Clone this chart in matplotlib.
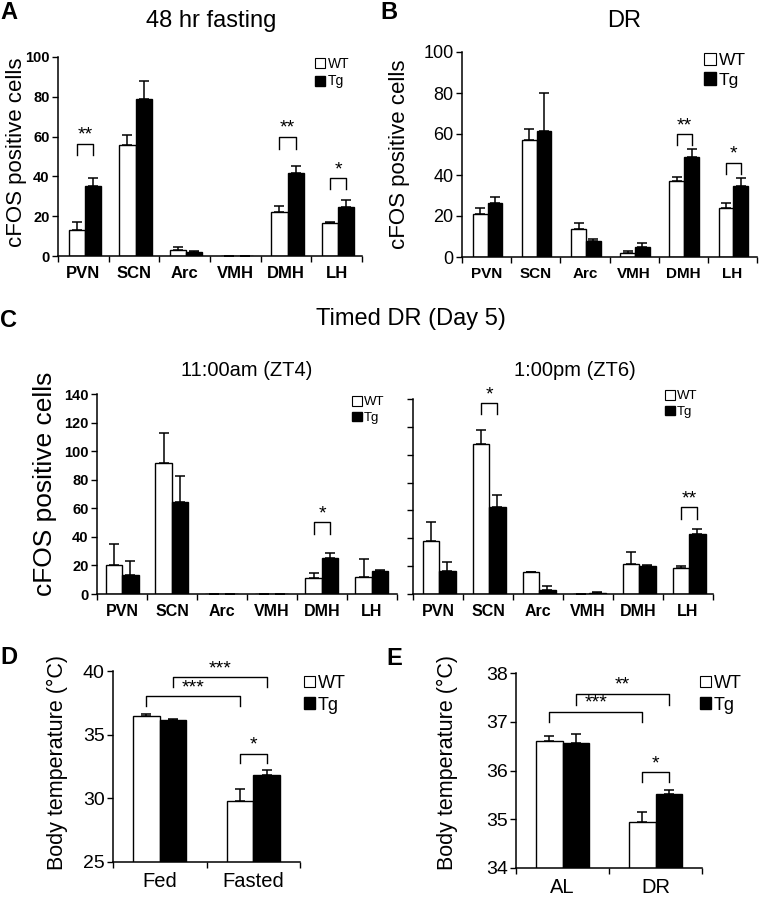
import numpy as np
import matplotlib
matplotlib.use("Agg")
import matplotlib.pyplot as plt
from matplotlib.patches import Patch

plt.rcParams['font.family'] = ['Liberation Sans', 'DejaVu Sans']

# === data
regions = ["PVN", "SCN", "Arc", "VMH", "DMH", "LH"]

# A: 48 hr fasting
a_wt = [13, 56, 3, 0, 22, 16.8]
a_wt_err = [4, 5, 1.5, 0, 3.2, 0.5]
a_tg = [35, 79, 2, 0, 41.5, 24.5]
a_tg_err = [4, 9, 0.7, 0, 3.7, 3.5]
a_sig = [(0, 56.5, 50.7, "**"), (4, 60, 54, "**"), (5, 39, 33.5, "*")]

# B: DR
b_wt = [21, 57, 13.5, 2, 37, 24]
b_wt_err = [3, 5.5, 3, 1, 2, 2.5]
b_tg = [26.5, 61.5, 8, 5, 49, 34.5]
b_tg_err = [3, 18.5, 1, 2, 3.5, 4]
b_sig = [(4, 60, 54.5, "**"), (5, 46, 40.6, "*")]

# C: timed DR, 11:00am (ZT4)
c1_wt = [20, 91.5, 0, 0, 11.4, 12]
c1_wt_err = [15, 21, 0, 0, 3.3, 12.4]
c1_tg = [13.3, 64.4, 0, 0, 25.2, 15.9]
c1_tg_err = [10, 18.4, 0, 0, 3.7, 1.1]
c1_sig = [(4, 50.2, 42, "*")]

# C: timed DR, 1:00pm (ZT6)
c2_wt = [38, 107.5, 16, 0, 21.5, 18.4]
c2_wt_err = [13.4, 10.5, 0, 0, 8.6, 1.9]
c2_tg = [16.3, 62.7, 3, 0.7, 20, 43]
c2_tg_err = [6.7, 8.6, 2.4, 0.5, 0.9, 3.6]
c2_sig = [(1, 136.8, 129.2, "*"), (5, 62.4, 54, "**")]

# D: body temperature, fasting
d_groups = ["Fed", "Fasted"]
d_wt = [36.5, 29.8]
d_wt_err = [0.12, 0.9]
d_tg = [36.15, 31.8]
d_tg_err = [0.08, 0.45]
# (from group, from bar, to group, to bar, y top, y leg, label); bar 0 = WT, 1 = Tg
d_sig = [(0, 0, 1, 0, 38.03, 37.25, "***"), (0, 1, 1, 1, 39.5, 38.77, "***"),
         (1, 0, 1, 1, 33.5, 32.8, "*")]

# E: body temperature, DR
e_groups = ["AL", "DR"]
e_wt = [36.6, 34.95]
e_wt_err = [0.11, 0.19]
e_tg = [36.56, 35.52]
e_tg_err = [0.18, 0.08]
e_sig = [(0, 0, 1, 0, 37.21, 37.0, "***"), (0, 1, 1, 1, 37.57, 37.35, "**"),
         (1, 0, 1, 1, 35.96, 35.77, "*")]

W, H = 759, 899
fig = plt.figure(figsize=(W / 100, H / 100), dpi=100, facecolor="white")


def px_axes(left, top, right, bottom):
    return fig.add_axes([left / W, 1 - bottom / H, (right - left) / W, (bottom - top) / H])


def draw_bars(ax, wt, wt_err, tg, tg_err, labels, width, shift, ylim, yticks,
              ytick_size, ytick_bold, xtick_size, xtick_bold, show_ylabels=True):
    n = len(labels)
    x = np.arange(n) + 0.5 + shift
    ekw = dict(ecolor="black", elinewidth=1.1, capsize=3.5, capthick=1.1)
    ax.bar(x - width / 2, wt, width, color="white", edgecolor="black", linewidth=1,
           yerr=[np.zeros(n), wt_err], error_kw=ekw, zorder=2)
    ax.bar(x + width / 2, tg, width, color="black", edgecolor="black", linewidth=1,
           yerr=[np.zeros(n), tg_err], error_kw=ekw, zorder=2)
    ax.set_xlim(0, n)
    ax.set_ylim(*ylim)
    ax.set_yticks(yticks)
    ax.set_xticks(np.arange(n + 1))
    ax.set_xticklabels([])
    ax.set_xticks(np.arange(n) + 0.5, minor=True)
    ax.set_xticklabels(labels, minor=True, fontsize=xtick_size,
                       fontweight="bold" if xtick_bold else "normal")
    ax.tick_params(axis="x", which="minor", length=0, pad=7)
    ax.tick_params(axis="x", which="major", length=4, width=1, direction="out")
    ax.tick_params(axis="y", length=4, width=1, direction="out", pad=2)
    if show_ylabels:
        for t in ax.get_yticklabels():
            t.set_fontsize(ytick_size)
            t.set_fontweight("bold" if ytick_bold else "normal")
    else:
        ax.set_yticklabels([])
    for s in ["top", "right"]:
        ax.spines[s].set_visible(False)
    for s in ["left", "bottom"]:
        ax.spines[s].set_linewidth(1.1)
    return x


def bracket(ax, x1, x2, ytop, yleg, label, size=14):
    ax.plot([x1, x1, x2, x2], [yleg, ytop, ytop, yleg], color="black", lw=1,
            clip_on=False, zorder=3)
    ax.text((x1 + x2) / 2, ytop, label, ha="center", va="bottom", fontsize=size)


def add_legend(ax, left, top, size, box):
    handles = [Patch(facecolor="white", edgecolor="black", linewidth=0.8, label="WT"),
               Patch(facecolor="black", edgecolor="black", label="Tg")]
    ax.legend(handles=handles, loc="upper left", bbox_to_anchor=(left / W, 1 - top / H),
              bbox_transform=fig.transFigure, frameon=False, fontsize=size,
              handlelength=box, handleheight=box, handletextpad=0.15,
              labelspacing=0.25, borderpad=0, borderaxespad=0)


# === A
ax_a = px_axes(58, 57, 362, 256)
w = 0.32
xa = draw_bars(ax_a, a_wt, a_wt_err, a_tg, a_tg_err, regions, w, 0.03, (0, 100),
               range(0, 101, 20), 10.5, True, 12, True)
for g, yt, yl, lab in a_sig:
    bracket(ax_a, xa[g] - w / 2, xa[g] + w / 2, yt, yl, lab)
add_legend(ax_a, 315, 57, 10, 0.75)

# === B
ax_b = px_axes(462, 52, 757, 257)
w = 0.30
xb = draw_bars(ax_b, b_wt, b_wt_err, b_tg, b_tg_err, regions, w, 0.02, (0, 100),
               range(0, 101, 20), 13, False, 11, True)
for g, yt, yl, lab in b_sig:
    bracket(ax_b, xb[g] - w / 2, xb[g] + w / 2, yt, yl, lab)
add_legend(ax_b, 704, 53, 12.5, 0.7)

# === C
w = 0.33
ax_c1 = px_axes(97, 394, 397, 594)
xc1 = draw_bars(ax_c1, c1_wt, c1_wt_err, c1_tg, c1_tg_err, regions, w, 0.0, (0, 140),
                range(0, 141, 20), 10.5, True, 11.5, True)
for g, yt, yl, lab in c1_sig:
    bracket(ax_c1, xc1[g] - w / 2, xc1[g] + w / 2, yt, yl, lab)
add_legend(ax_c1, 352, 396, 9.5, 0.75)

ax_c2 = px_axes(413, 399, 713, 594)
xc2 = draw_bars(ax_c2, c2_wt, c2_wt_err, c2_tg, c2_tg_err, regions, w, 0.02, (0, 140),
                range(0, 141, 20), 10.5, True, 11.5, True, show_ylabels=False)
for g, yt, yl, lab in c2_sig:
    bracket(ax_c2, xc2[g] - w / 2, xc2[g] + w / 2, yt, yl, lab)
add_legend(ax_c2, 665, 390, 9.5, 0.75)

# === D
w = 0.285
ax_d = px_axes(113, 671, 300, 862)
xd = draw_bars(ax_d, d_wt, d_wt_err, d_tg, d_tg_err, d_groups, w, 0.0, (25, 40),
               [25, 30, 35, 40], 14, False, 14.5, False)
for g1, b1, g2, b2, yt, yl, lab in d_sig:
    x1 = xd[g1] + (b1 - 0.5) * w
    x2 = xd[g2] + (b2 - 0.5) * w
    bracket(ax_d, x1, x2, yt, yl, lab, size=14)
add_legend(ax_d, 304, 675, 13, 0.6)

# === E
ax_e = px_axes(516, 673, 702, 868)
xe = draw_bars(ax_e, e_wt, e_wt_err, e_tg, e_tg_err, e_groups, w, 0.0, (34, 38),
               [34, 35, 36, 37, 38], 14, False, 14.5, False)
for g1, b1, g2, b2, yt, yl, lab in e_sig:
    x1 = xe[g1] + (b1 - 0.5) * w
    x2 = xe[g2] + (b2 - 0.5) * w
    bracket(ax_e, x1, x2, yt, yl, lab, size=14)
add_legend(ax_e, 700, 675, 13, 0.6)

# === labels and titles
def ftext(x, y, s, **kw):
    fig.text(x / W, 1 - y / H, s, **kw)

for lab, x, y in [("A", 0, 1), ("B", 380, 1), ("C", 0, 309), ("D", 0, 646), ("E", 386, 647)]:
    ftext(x, y, lab, fontsize=17, fontweight="bold", ha="left", va="top")

ftext(211, 21, "48 hr fasting", fontsize=17, ha="center", va="center")
ftext(624, 21, "DR", fontsize=17, ha="center", va="center")
ftext(411, 319, "Timed DR (Day 5)", fontsize=17, ha="center", va="center")
ftext(247, 371, "11:00am (ZT4)", fontsize=14.5, ha="center", va="center")
ftext(575, 371, "1:00pm (ZT6)", fontsize=14.5, ha="center", va="center")

ftext(17, 152, "cFOS positive cells", fontsize=16, rotation=90, ha="center", va="center")
ftext(400, 154, "cFOS positive cells", fontsize=16, rotation=90, ha="center", va="center")
ftext(45, 484, "cFOS positive cells", fontsize=19, rotation=90, ha="center", va="center")
ftext(57, 762, "Body temperature (°C)", fontsize=15.5, rotation=90, ha="center", va="center")
ftext(447, 762, "Body temperature (°C)", fontsize=15.5, rotation=90, ha="center", va="center")

plt.savefig("out.png", dpi=100, facecolor="white")
